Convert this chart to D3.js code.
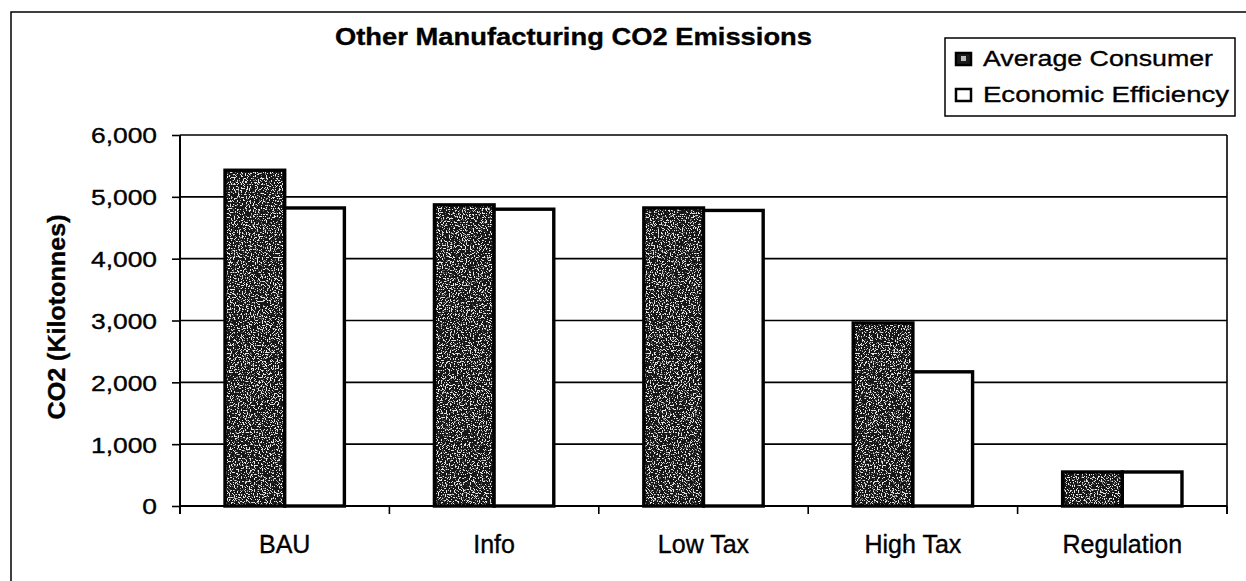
<!DOCTYPE html>
<html>
<head>
<meta charset="utf-8">
<script src="https://cdn.jsdelivr.net/npm/d3@7"></script>
<style>
  html, body { margin: 0; padding: 0; background: #fff; }
  svg { display: block; }
  text { font-family: "Liberation Sans", Arial, Helvetica, sans-serif; fill: #000; stroke: #000; stroke-width: 0.35px; }
</style>
</head>
<body>
<svg id="chart" width="1246" height="581"></svg>
<script>
// Scenario categories and emissions (kilotonnes of CO2)
const categories = ["BAU", "Info", "Low Tax", "High Tax", "Regulation"];
const seriesNames = ["Average Consumer", "Economic Efficiency"];
const averageConsumer = [5430, 4870, 4820, 2960, 550];
const economicEfficiency = [4820, 4800, 4780, 2170, 550];
const yTicks = [0, 1000, 2000, 3000, 4000, 5000, 6000];

const W = 1246, H = 581;
const margin = { left: 180, right: W - 1227, top: 135, bottom: H - 506 };
const svg = d3.select("#chart");

// Stippled texture for the dark series
const defs = svg.append("defs");
const grain = defs.append("filter").attr("id", "grain")
  .attr("x", 0).attr("y", 0).attr("width", 1).attr("height", 1);
grain.append("feTurbulence").attr("type", "fractalNoise")
  .attr("baseFrequency", 0.75).attr("numOctaves", 2).attr("seed", 3).attr("result", "noise");
grain.append("feColorMatrix").attr("in", "noise").attr("type", "matrix")
  .attr("values", "0 0 0 0 0.8  0 0 0 0 0.8  0 0 0 0 0.8  14 0 0 0 -7.7")
  .attr("result", "specks");
grain.append("feComposite").attr("in", "specks").attr("in2", "SourceGraphic").attr("operator", "in");

// Outer frame
svg.append("path")
  .attr("d", `M11,${H + 5} L11,12 L${W + 5},12`)
  .attr("fill", "none").attr("stroke", "#000").attr("stroke-width", 1.5);

const x0 = d3.scaleBand().domain(categories)
  .range([margin.left, W - margin.right])
  .paddingInner(0.43).paddingOuter(0.215);
const x1 = d3.scaleBand().domain(seriesNames).range([0, x0.bandwidth()]);
const y = d3.scaleLinear().domain([0, 6000]).range([H - margin.bottom, margin.top]);

// Horizontal gridlines
svg.append("g")
  .selectAll("line").data(yTicks.filter(d => d > 0)).join("line")
  .attr("x1", margin.left).attr("x2", W - margin.right)
  .attr("y1", d => y(d)).attr("y2", d => y(d))
  .attr("stroke", "#000").attr("stroke-width", 1.6);

// Right border of the plot area
svg.append("line")
  .attr("x1", W - margin.right).attr("x2", W - margin.right)
  .attr("y1", y(6000)).attr("y2", y(0) + 8)
  .attr("stroke", "#000").attr("stroke-width", 1.6);

// Bars
const rows = categories.map((c, i) => ({ cat: c, vals: [averageConsumer[i], economicEfficiency[i]] }));
const groups = svg.append("g").selectAll("g").data(rows).join("g")
  .attr("transform", d => `translate(${x0(d.cat)},0)`);

groups.each(function (d) {
  const g = d3.select(this);
  // dark stippled bar
  const ax = x1(seriesNames[0]), bw = x1.bandwidth();
  g.append("rect")
    .attr("x", ax).attr("y", y(d.vals[0]))
    .attr("width", bw).attr("height", y(0) - y(d.vals[0]))
    .attr("fill", "#161616");
  g.append("rect")
    .attr("x", ax).attr("y", y(d.vals[0]))
    .attr("width", bw).attr("height", y(0) - y(d.vals[0]))
    .attr("fill", "#fff").attr("filter", "url(#grain)");
  g.append("rect")
    .attr("x", ax).attr("y", y(d.vals[0]))
    .attr("width", bw).attr("height", y(0) - y(d.vals[0]))
    .attr("fill", "none").attr("stroke", "#000").attr("stroke-width", 3.4);
  // white bar
  const ex = x1(seriesNames[1]);
  g.append("rect")
    .attr("x", ex).attr("y", y(d.vals[1]))
    .attr("width", bw).attr("height", y(0) - y(d.vals[1]))
    .attr("fill", "#fff").attr("stroke", "#000").attr("stroke-width", 3.4);
});

// Y axis
const yAxis = svg.append("g")
  .attr("transform", `translate(${margin.left},0)`)
  .call(d3.axisLeft(y).tickValues(yTicks).tickFormat(d3.format(",")).tickSize(8).tickPadding(0));
yAxis.select(".domain").attr("stroke-width", 2).attr("d", `M0,${y(6000)}V${y(0) + 8}`);
yAxis.selectAll(".tick line").attr("stroke-width", 1.6);
yAxis.selectAll(".tick text")
  .attr("x", 0).attr("dy", "0.36em")
  .attr("transform", "translate(-23,0) scale(1.2,1)")
  .style("font-size", "22px").style("font-family", "Liberation Sans, Arial, sans-serif");

// X axis with tick marks between categories
const xAxis = svg.append("g").attr("transform", `translate(0,${y(0)})`);
xAxis.append("line")
  .attr("x1", margin.left).attr("x2", W - margin.right)
  .attr("stroke", "#000").attr("stroke-width", 2.2);
const boundaries = categories.map(c => x0(c) + x0.bandwidth() / 2 + x0.step() / 2);
xAxis.selectAll("line.sep").data(boundaries).join("line").attr("class", "sep")
  .attr("x1", d => d).attr("x2", d => d).attr("y1", 0).attr("y2", 8)
  .attr("stroke", "#000").attr("stroke-width", 1.6);
xAxis.selectAll("text").data(categories).join("text")
  .attr("x", d => x0(d) + x0.bandwidth() / 2)
  .attr("y", 47)
  .attr("text-anchor", "middle")
  .style("font-size", "25px")
  .text(d => d);

// Y axis title
svg.append("text")
  .attr("transform", "translate(65,317) rotate(-90)")
  .attr("text-anchor", "middle")
  .attr("textLength", 205).attr("lengthAdjust", "spacingAndGlyphs")
  .style("font-size", "23px").style("font-weight", "bold")
  .text("CO2 (Kilotonnes)");

// Chart title
svg.append("text")
  .attr("x", 335).attr("y", 45)
  .attr("textLength", 477).attr("lengthAdjust", "spacingAndGlyphs")
  .style("font-size", "24px").style("font-weight", "bold")
  .text("Other Manufacturing CO2 Emissions");

// Legend
const legend = svg.append("g");
legend.append("rect")
  .attr("x", 945).attr("y", 38).attr("width", 290).attr("height", 78)
  .attr("fill", "#fff").attr("stroke", "#000").attr("stroke-width", 1.5);
const legendRows = [
  { name: seriesNames[0], y: 66, len: 230, dark: true },
  { name: seriesNames[1], y: 102, len: 246, dark: false }
];
legendRows.forEach(r => {
  if (r.dark) {
    legend.append("rect").attr("x", 956).attr("y", r.y - 13).attr("width", 15).attr("height", 12)
      .attr("fill", "#1b1b1b").attr("stroke", "#000").attr("stroke-width", 2.5);
    legend.append("rect").attr("x", 961).attr("y", r.y - 10).attr("width", 5).attr("height", 5)
      .attr("fill", "#bbb");
  } else {
    legend.append("rect").attr("x", 956).attr("y", r.y - 13).attr("width", 15).attr("height", 12)
      .attr("fill", "#fff").attr("stroke", "#000").attr("stroke-width", 2.5);
  }
  legend.append("text")
    .attr("x", 983).attr("y", r.y)
    .attr("textLength", r.len).attr("lengthAdjust", "spacingAndGlyphs")
    .style("font-size", "22px")
    .text(r.name);
});
</script>
</body>
</html>
